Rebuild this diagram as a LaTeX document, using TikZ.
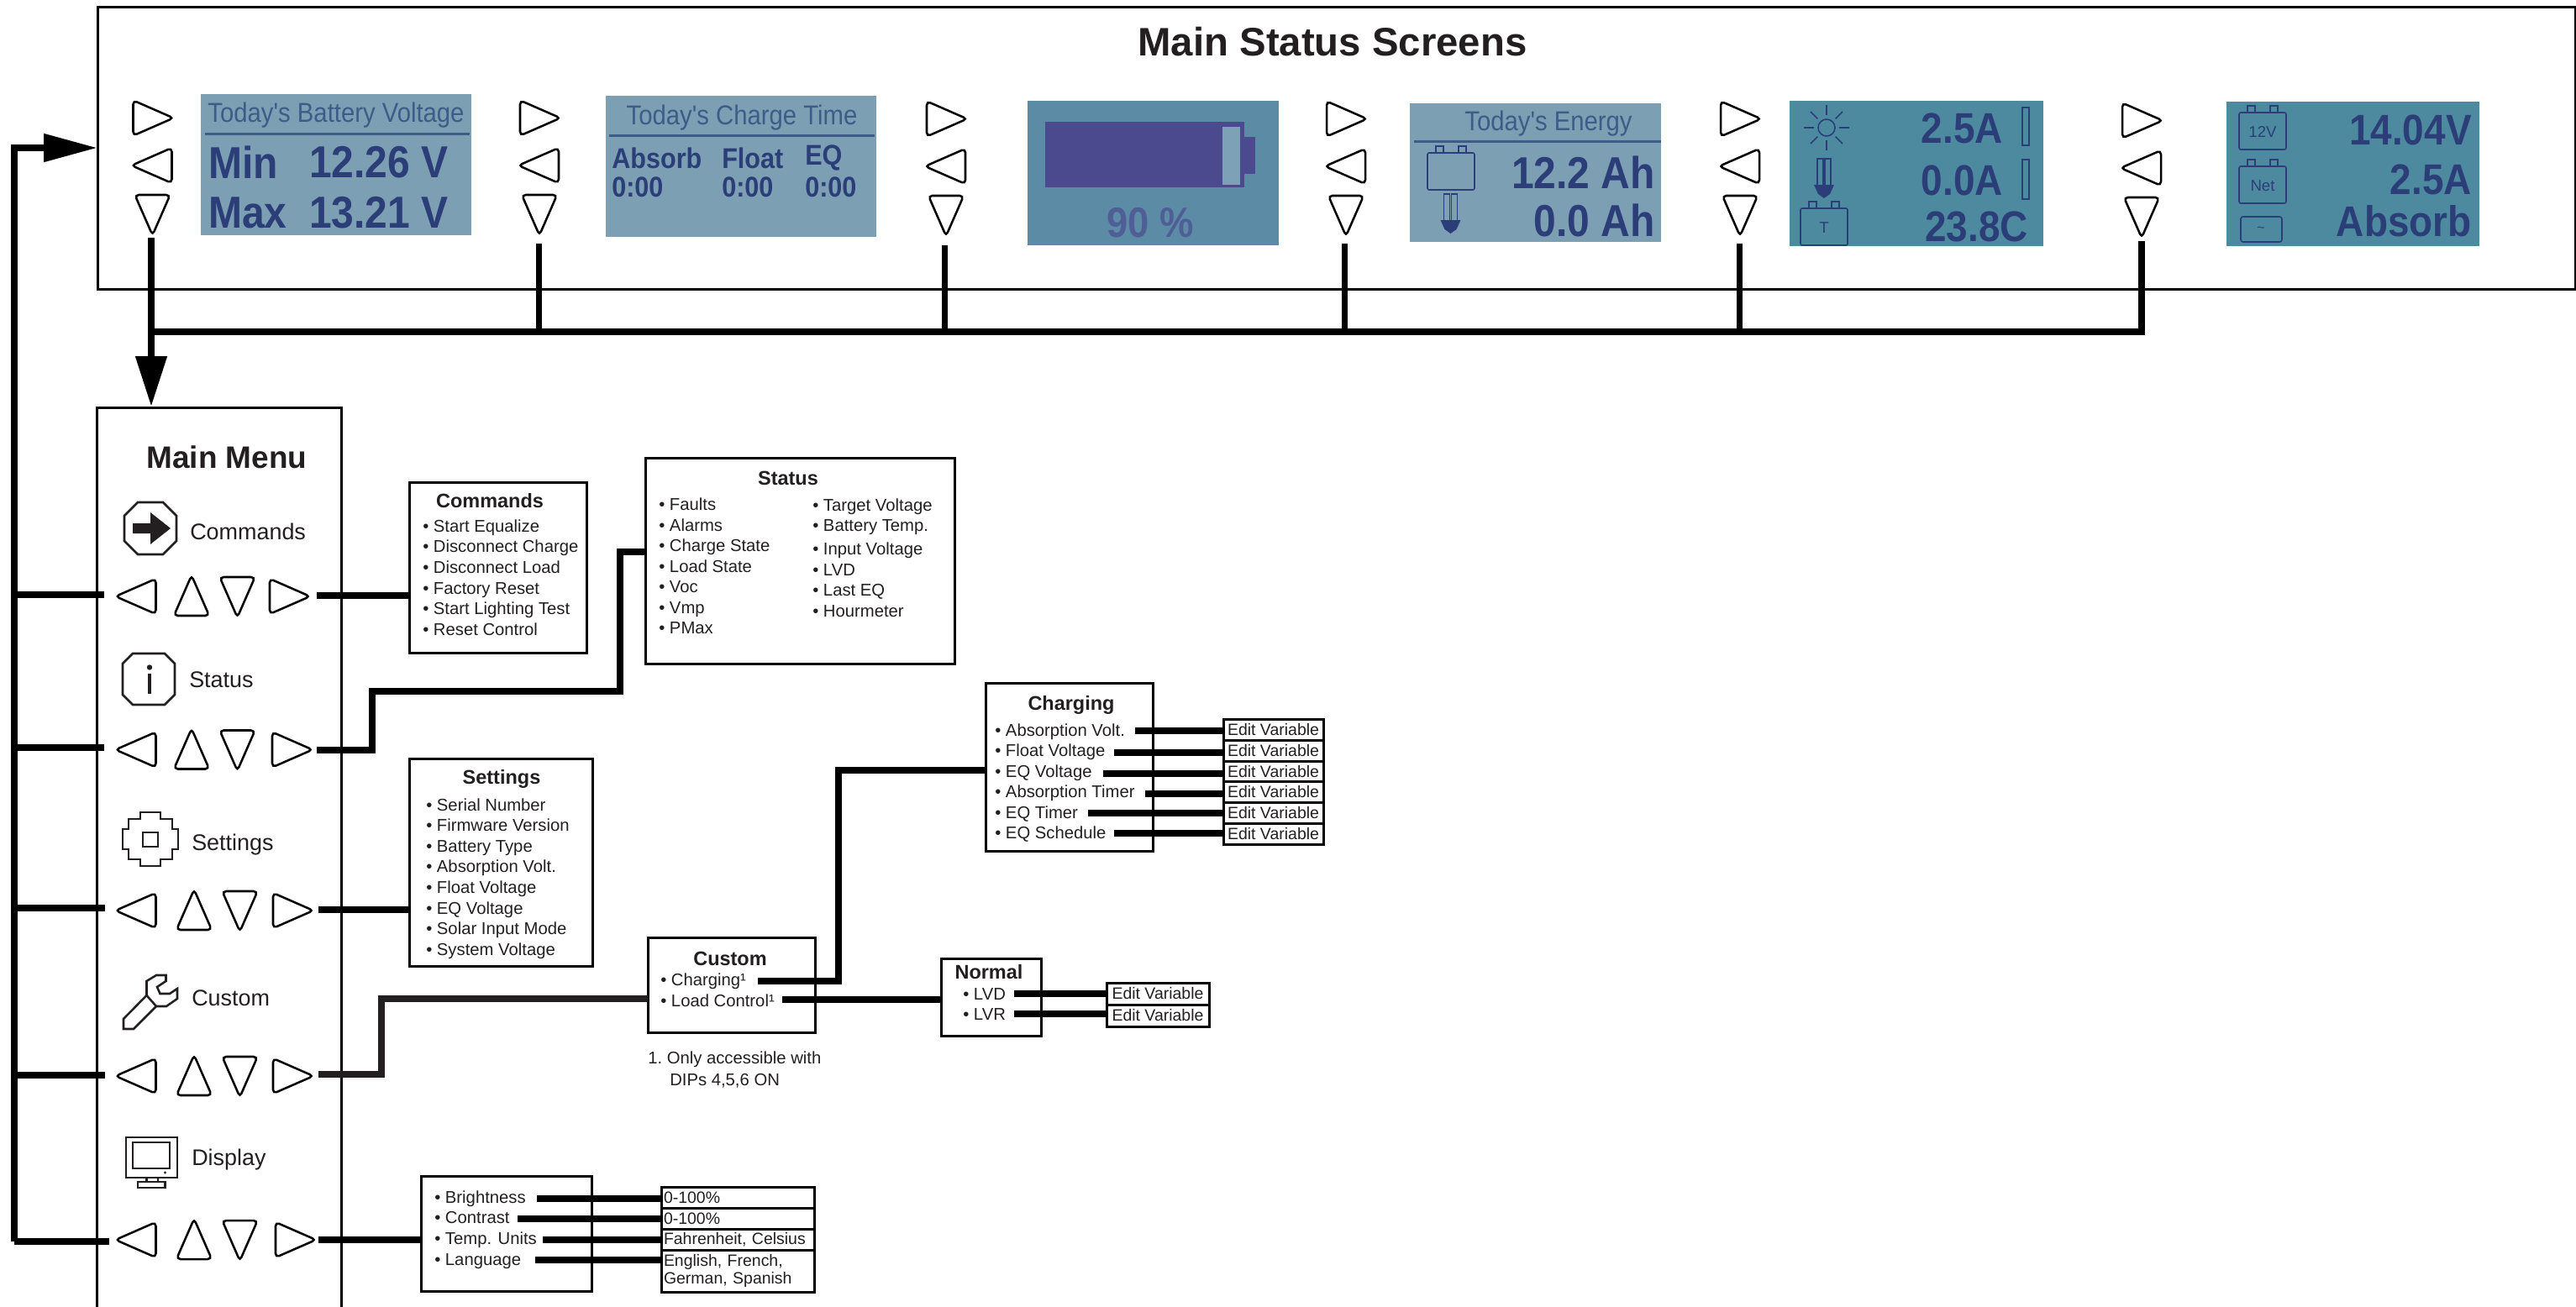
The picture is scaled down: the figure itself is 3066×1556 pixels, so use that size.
\documentclass[tikz,border=0pt]{standalone}
\usepackage{fontspec}
\setmainfont{Liberation Sans}
\newfontfamily\lcdfont[FakeStretch=0.9]{Liberation Sans}
\usetikzlibrary{arrows.meta}

\definecolor{inktext}{RGB}{35,31,32}
\definecolor{lcdpale}{RGB}{125,159,180}
\definecolor{lcdmid}{RGB}{92,139,166}
\definecolor{lcdteal}{RGB}{78,138,159}
\definecolor{lcdink}{RGB}{43,62,120}
\definecolor{lcdfaint}{RGB}{62,92,135}
\definecolor{lcdbar}{RGB}{75,74,143}
\definecolor{lcdgap}{RGB}{125,162,184}

\tikzset{
  wire/.style={line width=6pt},
  wirethin/.style={line width=5.25pt},
  boxline/.style={draw=black,line width=2.25pt,outer sep=0pt,inner sep=0pt},
  sizepx/.style 2 args={minimum width=#1*0.75pt,minimum height=#2*0.75pt},
  btnline/.style={draw=black,line width=1.9pt,rounded corners=3.5pt},
  iconline/.style={draw=inktext,line width=1.9pt},
  lcdline/.style={draw=lcdink,line width=1.2pt},
  title/.style={font=\bfseries\fontsize{17.6}{20}\selectfont,text=inktext,inner sep=0pt},
  listtext/.style={font=\fontsize{15.2}{18.4}\selectfont,text=inktext,align=left,anchor=west,inner sep=0pt},
  menulabel/.style={font=\fontsize{20.2}{24}\selectfont,text=inktext,anchor=west,inner sep=0pt},
  editbox/.style={boxline,sizepx={119}{24.6},font=\fontsize{14.6}{17}\selectfont,text=inktext},
  valbox/.style={boxline,text width=132pt,inner xsep=2.25pt,align=left,font=\fontsize{14.6}{15.8}\selectfont,text=inktext},
  lcdhead/.style={font=\lcdfont\fontsize{24.4}{28}\selectfont,text=lcdfaint,inner sep=0pt},
  lcdbig/.style={font=\lcdfont\bfseries\fontsize{40}{44}\selectfont,text=lcdink,inner sep=0pt},
  lcdmed/.style={font=\lcdfont\bfseries\fontsize{38.3}{42}\selectfont,text=lcdink,inner sep=0pt,anchor=east},
  lcdsmall/.style={font=\lcdfont\bfseries\fontsize{25.5}{28}\selectfont,text=lcdink,inner sep=0pt,anchor=west},
  trir/.pic={\draw[btnline] (-23,21) -- (25,0) -- (-23,-21) -- cycle;},
  tril/.pic={\draw[btnline] (23,21) -- (-25,0) -- (23,-21) -- cycle;},
  triu/.pic={\draw[btnline] (0,25) -- (21,-23) -- (-21,-23) -- cycle;},
  trid/.pic={\draw[btnline] (0,-25) -- (21,23) -- (-21,23) -- cycle;},
  lcdbatt/.pic={\draw[lcdline,rounded corners=1.5pt] (-28,21) rectangle (28,-23);
    \draw[lcdline] (-18,21) -- (-18,29) -- (-9,29) -- (-9,21) (9,21) -- (9,29) -- (18,29) -- (18,21);},
  lcdbulb/.pic={\draw[lcdline] (-8,-8) -- (-8,23) -- (-1,23) -- (-1,-8) (1,-8) -- (1,23) -- (8,23) -- (8,-8);
    \fill[lcdink] (-12,-8) -- (12,-8) -- (7,-19) -- (0,-24) -- (-7,-19) -- cycle;},
}

\begin{document}
\begin{tikzpicture}[x=0.75pt,y=0.75pt,yscale=-1,xscale=1]
\useasboundingbox (0,0) rectangle (3066,1556);

%Status frame and menu outline
\draw (1590.5,176) node [boxline,sizepx={2949}{336}] (statusframe) {};
\draw [boxline] (115,1556) -- (115,485) -- (406,485) -- (406,1556);

% Text Node
\draw (1586,50) node [font=\bfseries\fontsize{35.5}{40}\selectfont,text=inktext,inner sep=0pt] (statustitle) {Main Status Screens};
\draw (270,544) node [font=\bfseries\fontsize{27.7}{32}\selectfont,text=inktext,inner sep=0pt] (menutitle) {Main Menu};

%Screen 1
\fill [lcdpale] (239,112) rectangle (560.5,280);
\fill [lcdfaint] (244,157.5) rectangle (559,160.5);
\draw (400,137) node [lcdhead] (voltHead) {Today's Battery Voltage};
\draw (248,193) node [lcdbig,anchor=west] (voltMin) {Min};
\draw (534,193) node [lcdbig,anchor=east] (voltMinVal) {12.26 V};
\draw (248,253) node [lcdbig,anchor=west] (voltMax) {Max};
\draw (534,253) node [lcdbig,anchor=east] (voltMaxVal) {13.21 V};

%Screen 2
\fill [lcdpale] (721,114) rectangle (1043,282);
\fill [lcdfaint] (725,159.5) rectangle (1041,162.5);
\draw (883,140) node [lcdhead] (timeHead) {Today's Charge Time};
\draw (728,188) node [lcdsmall] (timeAbs) {Absorb};
\draw (859,188) node [lcdsmall] (timeFloat) {Float};
\draw (958,188) node [lcdsmall] (timeEq) {EQ};
\draw (728,223) node [lcdsmall] (timeAbsVal) {0:00};
\draw (859,223) node [lcdsmall] (timeFloatVal) {0:00};
\draw (958,223) node [lcdsmall] (timeEqVal) {0:00};

%Screen 3
\fill [lcdmid] (1223,120) rectangle (1522,292);
\fill [lcdbar] (1243.5,145) rectangle (1481,223);
\fill [lcdbar] (1481,163) rectangle (1494,207);
\fill [lcdgap] (1455,151) rectangle (1476,220);
\draw (1369,265) node [font=\lcdfont\bfseries\fontsize{37.8}{42}\selectfont,text=lcdbar!70!lcdmid,inner sep=0pt] (socText) {90 \%};

%Screen 4
\fill [lcdpale] (1678,123) rectangle (1977,288);
\fill [lcdfaint] (1683,166.5) rectangle (1977,169.5);
\draw (1843,147) node [lcdhead] (energyHead) {Today's Energy};
\pic at (1727,203) {lcdbatt};
\pic at (1726.5,254) {lcdbulb};
\draw (1970,205) node [lcdbig,anchor=east] (energyIn) {12.2 Ah};
\draw (1970,262) node [lcdbig,anchor=east] (energyOut) {0.0 Ah};

%Screen 5
\fill [lcdteal] (2130,120) rectangle (2432,293);
\draw [lcdline] (2174,152) circle [radius=10];
\foreach \ang in {0,45,...,315} {\draw [lcdline,shift={(2174,152)}] (\ang:15) -- (\ang:27);}
\pic at (2171,212) {lcdbulb};
\pic at (2171,269) {lcdbatt};
\draw (2171,271) node [font=\fontsize{14}{16}\selectfont,text=lcdink,inner sep=0pt] (tempIcon) {T};
\draw (2384,153) node [lcdmed] (ampSolar) {2.5A};
\draw (2384,215) node [lcdmed] (ampLoad) {0.0A};
\draw (2414,270) node [lcdmed] (tempVal) {23.8C};
\draw [lcdline] (2407,128) rectangle (2415,173);
\draw [lcdline] (2407,190) rectangle (2415,237);

%Screen 6
\fill [lcdteal] (2650,121) rectangle (2951,293);
\pic at (2693,155) {lcdbatt};
\pic at (2693,219) {lcdbatt};
\draw [lcdline,rounded corners=2pt] (2667,258) rectangle (2716,288);
\draw (2693,157) node [font=\fontsize{14}{16}\selectfont,text=lcdink,inner sep=0pt] (batt12v) {12V};
\draw (2693,221) node [font=\fontsize{14}{16}\selectfont,text=lcdink,inner sep=0pt] (battNet) {Net};
\draw (2691,273) node [font=\fontsize{12}{14}\selectfont,text=lcdink,inner sep=0pt] (battFlow) {\textasciitilde};
\draw (2942,155) node [lcdmed] (netVolt) {14.04V};
\draw (2942,214) node [lcdmed] (netAmp) {2.5A};
\draw (2942,263) node [lcdmed] (netState) {Absorb};

%Buttons beside the screens
\foreach \bx/\by in {181.5/0,642/0,1126/1,1602/1,2071/1,2549/3} {
  \pic at (\bx,140.5+\by) {trir};
  \pic at (\bx,197+\by) {tril};
  \pic at (\bx,255+\by) {trid};
}

%Buttons in the menu
\foreach \ry/\ux/\dx/\rx in {710/228/282.5/344,892.5/228/282.5/347,1084/231/285.5/348,1281/231/285.5/348,1476/231/285.5/351} {
  \pic at (162.5,\ry) {tril};
  \pic at (\ux,\ry) {triu};
  \pic at (\dx,\ry) {trid};
  \pic at (\rx,\ry) {trir};
}

%Commands icon
\draw [iconline] (164,598) -- (194,598) -- (210,614) -- (210,644) -- (194,660) -- (164,660) -- (148,644) -- (148,614) -- cycle;
\fill [inktext] (158,623) -- (179,623) -- (179,610) -- (203,629) -- (179,648) -- (179,635) -- (158,635) -- cycle;
%Status icon
\draw [iconline] (158,778) -- (196,778) -- (208,790) -- (208,827) -- (196,839) -- (158,839) -- (146,827) -- (146,790) -- cycle;
\fill [inktext] (178,794.5) circle [radius=3.2];
\fill [inktext] (175.7,802) rectangle (180.3,826);
%Settings icon
\draw [iconline,shift={(179,999)}] (-12,-32) -- (12,-32) -- (12,-24) -- (26,-24) -- (26,-12) -- (33,-12) -- (33,12) -- (26,12) -- (26,24) -- (12,24) -- (12,32) -- (-12,32) -- (-12,24) -- (-26,24) -- (-26,12) -- (-33,12) -- (-33,-12) -- (-26,-12) -- (-26,-24) -- (-12,-24) -- cycle;
\draw [iconline] (170,991) rectangle (188,1008);
%Custom icon
\draw [iconline] (147,1225) -- (159,1225) -- (186,1198) -- (198,1198) -- (211,1189) -- (211,1177) -- (202,1183) -- (190.5,1183) -- (187,1175) -- (197.5,1168) -- (197.5,1161) -- (186,1161) -- (174.5,1168) -- (174.5,1185) -- (147,1213) -- cycle;
\draw [iconline] (174.5,1185) -- (186,1198);
%Display icon
\draw [iconline] (150,1354) rectangle (211,1402);
\draw [iconline] (158,1360) rectangle (202,1391);
\fill [inktext] (196.5,1396) circle [radius=1.6];
\draw [iconline] (174.5,1402) -- (174.5,1407) (188,1402) -- (188,1407);
\draw [iconline] (164,1407) rectangle (196.5,1414);

% Text Node
\draw (226,633) node [menulabel] (menuCommands) {Commands};
\draw (225,809) node [menulabel] (menuStatus) {Status};
\draw (228,1006) node [menulabel] (menuSettings) {Settings};
\draw (228,1188) node [menulabel] (menuCustom) {Custom};
\draw (228,1381) node [menulabel] (menuDisplay) {Display};

%Commands box
\draw (592.5,676) node [boxline,sizepx={211}{203}] (commandsbox) {};
\draw (583,596) node [title] (commandstitle) {Commands};
\draw (503,687.5) node [listtext] (commandslist) {• Start Equalize\\• Disconnect Charge\\• Disconnect Load\\• Factory Reset\\• Start Lighting Test\\• Reset Control};

%Status box
\draw (952,668) node [boxline,sizepx={368}{245}] (statusbox) {};
\draw (938,569) node [title] (statusboxtitle) {Status};
\draw (784,674) node [listtext] (statusleft) {• Faults\\• Alarms\\• Charge State\\• Load State\\• Voc\\• Vmp\\• PMax};
\draw (967,664) node [listtext] (statusright) {• Target Voltage\\• Battery Temp.\\[2.5pt]• Input Voltage\\• LVD\\• Last EQ\\• Hourmeter};

%Settings box
\draw (596,1026.5) node [boxline,sizepx={218}{247}] (settingsbox) {};
\draw (597,927) node [title] (settingstitle) {Settings};
\draw (507,1046) node [listtext] (settingslist) {• Serial Number\\• Firmware Version\\• Battery Type\\• Absorption Volt.\\• Float Voltage\\• EQ Voltage\\• Solar Input Mode\\• System Voltage};

%Custom box
\draw (870.5,1172.5) node [boxline,sizepx={199}{113}] (custombox) {};
\draw (869,1141) node [title] (customtitle) {Custom};
\draw (786,1179) node [listtext] (customlist) {• Charging¹\\• Load Control¹};
\draw (771,1273) node [listtext,font=\fontsize{15.2}{19.5}\selectfont\frenchspacing] (customnote) {1. Only accessible with\\\hspace*{19.5pt}DIPs 4,5,6 ON};

%Normal box
\draw (1179.5,1187) node [boxline,sizepx={119}{92}] (normalbox) {};
\draw (1177,1157) node [title] (normaltitle) {Normal};
\draw (1146,1195.5) node [listtext] (normallist) {• LVD\\• LVR};

%Charging box
\draw (1272.5,913) node [boxline,sizepx={199}{200}] (chargingbox) {};
\draw (1275,839) node [title] (chargingtitle) {Charging};
\draw (1184,932) node [listtext] (charginglist) {• Absorption Volt.\\• Float Voltage\\• EQ Voltage\\• Absorption Timer\\• EQ Timer\\• EQ Schedule};

%Display box
\draw (602.5,1468.5) node [boxline,sizepx={203}{137}] (displaybox) {};
\draw (517,1464) node [listtext] (displaylist) {• Brightness\\• Contrast\\• Temp. Units\\• Language};

%Edit variable boxes
\foreach \n/\ey in {1/869,2/894,3/918.5,4/943,5/968,6/993} {
  \draw (1515.5,\ey) node [editbox] (edit\n) {Edit Variable};
}
\draw (1378,1183) node [editbox,sizepx={122}{26}] (editLvd) {Edit Variable};
\draw (1378,1209) node [editbox,sizepx={122}{26}] (editLvr) {Edit Variable};

%Value boxes
\draw (878,1425.5) node [valbox,minimum height=18.75pt] (valBright) {0-100\%};
\draw (878,1450.5) node [valbox,minimum height=18.75pt] (valContrast) {0-100\%};
\draw (878,1475.5) node [valbox,minimum height=18.75pt] (valTemp) {Fahrenheit, Celsius};
\draw (878,1513) node [valbox,minimum height=37.5pt] (valLang) {English, French,\\German, Spanish};

%Connector ends
\coordinate (dn1) at (180,283);
\coordinate (dn2) at (641,290);
\coordinate (dn3) at (1124,292);
\coordinate (dn4) at (1600,290);
\coordinate (dn5) at (2070,290);
\coordinate (dn6) at (2549,287);
\coordinate (busL) at (176,395);
\coordinate (menutop) at (180,484);
\coordinate (railbot) at (16.5,1478);
\coordinate (railA) at (16.5,708);
\coordinate (railB) at (16.5,890);
\coordinate (railC) at (16.5,1081);
\coordinate (railD) at (16.5,1280);
\coordinate (outA) at (377,709);
\coordinate (outB) at (377,893);
\coordinate (outC) at (379,1083);
\coordinate (outD) at (379,1279);
\coordinate (outE) at (379,1476);
\coordinate (kneeB) at (443,823);
\coordinate (kneeB2) at (738,657);
\coordinate (kneeD) at (454,1189);
\coordinate (charge1) at (901.5,1168);
\coordinate (kneeC) at (998,917);
\coordinate (load1) at (930.5,1190);

%Bus under the screens
\draw [wire,-{Triangle[length=45pt,width=27pt]}] (dn1) -- (menutop);
\draw [wire] (dn6) |- (busL);
\foreach \n in {2,3,4,5} {\draw [wirethin] (dn\n) -- (dn\n |- busL);}

%Return rail
\draw [wire,-{Triangle[length=48pt,width=24pt]}] (railbot) -- (railbot |- statusframe.west) -- (statusframe.west);
\draw [wire] (railbot) -- (130,1478);
\draw [wire] (railA) -- (124,708);
\draw [wire] (railB) -- (124,890);
\draw [wire] (railC) -- (125,1081);
\draw [wire] (railD) -- (125,1280);

%Menu to boxes
\draw [wire] (outA) -- (outA -| commandsbox.west);
\draw [wire] (outB) -| (kneeB) -| (kneeB2) -- (kneeB2 -| statusbox.west);
\draw [wire] (outC) -- (outC -| settingsbox.west);
\draw [wire,draw=inktext] (outD) -| (kneeD) -- (kneeD -| custombox.west);
\draw [wire] (outE) -- (outE -| displaybox.west);
\draw [wire] (charge1) -| (kneeC) -- (kneeC -| chargingbox.west);
\draw [wire] (load1) -- (load1 -| normalbox.west);

%Custom items to edit boxes
\foreach \n/\sx/\sy in {1/1351/870,2/1326/896,3/1313/921,4/1363/945,5/1295/968,6/1326/992} {
  \coordinate (item\n) at (\sx,\sy);
  \draw [wire] (item\n) -- (item\n -| edit\n.west);
}
\coordinate (itemLvd) at (1207,1183);
\coordinate (itemLvr) at (1207,1207);
\draw [wire] (itemLvd) -- (itemLvd -| editLvd.west);
\draw [wire] (itemLvr) -- (itemLvr -| editLvr.west);

%Display items to value boxes
\coordinate (itemBright) at (639,1427);
\coordinate (itemContrast) at (616,1451);
\coordinate (itemTemp) at (646,1476);
\coordinate (itemLang) at (637,1500);
\draw [wire] (itemBright) -- (itemBright -| valBright.west);
\draw [wire] (itemContrast) -- (itemContrast -| valContrast.west);
\draw [wire] (itemTemp) -- (itemTemp -| valTemp.west);
\draw [wire] (itemLang) -- (itemLang -| valLang.west);

\end{tikzpicture}
\end{document}
